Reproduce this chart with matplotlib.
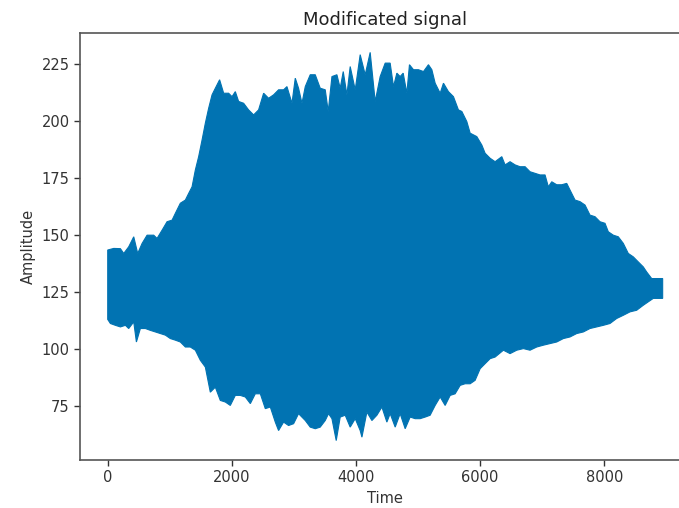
import numpy as np
import matplotlib
matplotlib.use('Agg')
import matplotlib.pyplot as plt

# upper envelope of the signal (time, amplitude)
upper_t = [0, 97, 204, 258, 338, 419, 483, 554, 634, 741, 795, 876, 956, 1037,
           1090, 1170, 1251, 1304, 1359, 1412, 1465, 1520, 1573, 1626, 1681,
           1734, 1803, 1868, 1948, 2003, 2056, 2109, 2190, 2270, 2351, 2431,
           2512, 2592, 2673, 2753, 2834, 2888, 2969, 3022, 3075, 3130, 3183,
           3263, 3344, 3424, 3505, 3553, 3613, 3693, 3746, 3795, 3854, 3907,
           3988, 4068, 4149, 4229, 4310, 4390, 4471, 4551, 4605, 4659, 4712,
           4761, 4820, 4862, 4927, 5007, 5088, 5168, 5223, 5276, 5357, 5410,
           5490, 5571, 5651, 5706, 5786, 5840, 5947, 6028, 6081, 6162, 6242,
           6350, 6403, 6483, 6564, 6644, 6725, 6805, 6886, 6966, 7047, 7100,
           7155, 7235, 7316, 7396, 7449, 7530, 7610, 7691, 7771, 7852, 7932,
           8013, 8066, 8147, 8227, 8308, 8388, 8469, 8549, 8630, 8684, 8765,
           8942]
upper_v = [143.4, 144.1, 144.0, 141.9, 144.8, 149.2, 141.9, 146.3, 149.9, 149.9,
           148.5, 152.1, 155.8, 156.5, 159.5, 163.9, 165.3, 168.2, 171.1, 178.5,
           184.3, 191.6, 199.0, 205.5, 211.4, 214.3, 218.0, 212.1, 212.1, 210.6,
           212.8, 208.5, 207.7, 204.8, 202.6, 204.8, 212.1, 209.9, 211.4, 213.6,
           213.6, 215.0, 207.7, 218.7, 214.3, 207.7, 215.0, 220.2, 220.2, 214.3,
           213.6, 204.1, 219.4, 220.2, 214.3, 221.6, 211.4, 223.8, 213.6, 229.0,
           220.2, 230.0, 208.5, 219.4, 225.3, 225.3, 215.0, 220.9, 219.4, 220.9,
           212.1, 224.6, 222.4, 222.4, 221.6, 224.6, 222.4, 216.5, 212.1, 216.5,
           212.8, 210.6, 204.8, 204.1, 199.7, 194.6, 193.1, 189.4, 185.8, 183.6,
           182.1, 184.3, 180.7, 182.1, 180.7, 179.9, 179.9, 177.7, 177.0, 176.3,
           176.3, 171.1, 173.3, 172.0, 172.0, 172.6, 169.7, 165.3, 164.6, 163.1,
           158.7, 158.0, 155.8, 155.1, 151.4, 149.9, 149.2, 146.3, 141.9, 140.4,
           138.2, 136.0, 133.8, 130.9, 130.9]

# lower envelope
lower_t = [0, 43, 124, 204, 285, 338, 419, 462, 526, 607, 687, 768, 848, 929,
           1009, 1090, 1170, 1251, 1331, 1412, 1492, 1573, 1653, 1734, 1814,
           1895, 1975, 2056, 2136, 2217, 2298, 2378, 2459, 2539, 2620, 2700,
           2753, 2834, 2914, 2995, 3075, 3183, 3263, 3344, 3424, 3505, 3558,
           3613, 3682, 3746, 3827, 3907, 3988, 4068, 4096, 4176, 4257, 4337,
           4418, 4498, 4551, 4632, 4712, 4793, 4873, 4954, 5034, 5115, 5195,
           5276, 5357, 5437, 5518, 5598, 5679, 5759, 5840, 5920, 6001, 6081,
           6162, 6242, 6376, 6483, 6591, 6698, 6805, 6913, 7020, 7127, 7235,
           7342, 7449, 7557, 7664, 7771, 7879, 7986, 8093, 8201, 8308, 8416,
           8523, 8630, 8710, 8791, 8942]
lower_v = [113.0, 111.2, 110.4, 109.7, 110.4, 109.0, 111.9, 103.1, 109.0, 109.0,
           108.2, 107.5, 106.8, 106.1, 104.6, 103.9, 103.1, 100.9, 100.9, 99.5,
           95.1, 92.1, 81.1, 83.3, 77.5, 76.8, 75.3, 79.7, 79.7, 79.0, 76.1,
           80.4, 80.4, 73.9, 74.6, 68.0, 64.3, 68.0, 66.5, 67.3, 71.7, 68.7,
           65.8, 65.1, 65.8, 68.7, 71.7, 69.5, 59.9, 70.2, 71.0, 65.8, 69.5,
           64.3, 61.4, 72.4, 68.7, 71.0, 74.6, 68.0, 71.7, 65.8, 71.7, 65.1,
           70.2, 69.5, 69.5, 70.2, 71.0, 75.3, 79.0, 75.3, 79.7, 80.4, 84.1,
           84.8, 84.8, 86.3, 91.4, 93.6, 95.8, 96.5, 99.5, 98.0, 99.5, 100.2,
           99.5, 100.9, 101.7, 102.4, 103.1, 104.6, 105.3, 106.8, 107.5, 109.0,
           109.7, 110.4, 111.2, 113.4, 114.8, 116.3, 117.0, 119.2, 120.7, 122.2,
           122.2]

color = '#0173B2'

fig = plt.figure(figsize=(6.79, 5.08), dpi=100)
ax = fig.add_axes([0.1178, 0.0945, 0.899, 0.8406])

# signal is too dense to see single samples -> draw it as the band
# between the two envelopes (one closed polygon)
band_t = np.concatenate([upper_t, lower_t[::-1]])
band_v = np.concatenate([upper_v, lower_v[::-1]])
ax.fill(band_t, band_v, facecolor=color, edgecolor=color, lw=0.8)

ax.margins(0.05)
ax.set_xticks([0, 2000, 4000, 6000, 8000])
ax.set_yticks([75, 100, 125, 150, 175, 200, 225])
ax.tick_params(labelsize=10.5, colors='#333333', length=4, width=1)
for s in ax.spines.values():
    s.set_color('#555555')
    s.set_linewidth(1.2)
ax.set_title('Modificated signal', fontsize=13, color='#222222')
ax.set_xlabel('Time', fontsize=10.5, color='#333333')
ax.set_ylabel('Amplitude', fontsize=10.5, color='#333333')

fig.savefig('out.png', dpi=100)
